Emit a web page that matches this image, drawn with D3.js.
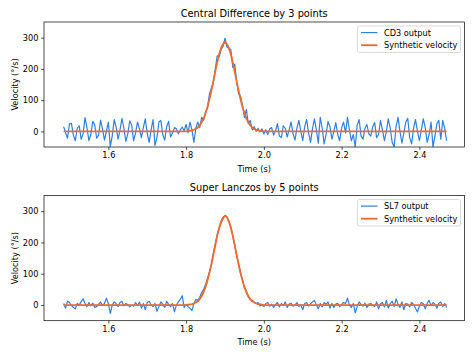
<!DOCTYPE html>
<html><head><meta charset="utf-8">
<script src="https://cdn.jsdelivr.net/npm/d3@7"></script>
<style>body{margin:0;background:#fff}svg{display:block}</style>
</head><body>
<script>
// ---- data ----
const tStart = 1.485, tStep = 0.005;
const titles = ["Central Difference by 3 points", "Super Lanczos by 5 points"];
const seriesNames = [["CD3 output", "Synthetic velocity"], ["SL7 output", "Synthetic velocity"]];
const xTicks = [1.6, 1.8, 2.0, 2.2, 2.4];
const yTicks = [0, 100, 200, 300];
const synthetic = [
 0,0,0,0,0,0,0,0,0,0, 0,0,0,0,0,0,0,0,0,0,
 0,0,0,0,0,0,0,0,0,0, 0,0,0,0,0,0,0,0,0,0,
 0,0,0,0,0,0,0,0,0,0, 0,0,0,0,0,0,0,0,0,0,
 0,0,0,0,1,2,3,5,8,12, 19,29,41,58,78,103,130,160,191,221,
 247,267,280,285,280,267,247,221,191,160, 130,103,78,58,41,29,19,12,8,5,
 3,2,1,0,0,0,0,0,0,0, 0,0,0,0,0,0,0,0,0,0,
 0,0,0,0,0,0,0,0,0,0, 0,0,0,0,0,0,0,0,0,0,
 0,0,0,0,0,0,0,0,0,0, 0,0,0,0,0,0,0,0,0,0,
 0,0,0,0,0,0,0,0,0,0, 0,0,0,0,0,0,0,0,0,0,
 0,0,0,0,0,0,0,0,0,0, 0,0,0,0,0,0,0,0
];
const cd3 = [
 15,-5,-22,24,26,-12,-30,10,18,-25, -8,44,12,-30,-10,32,20,-22,-12,36,
 8,-28,0,30,-48,-15,38,14,-25,5, 42,10,-32,-8,34,20,-30,-5,30,8,
 -20,12,40,-6,-35,5,38,-45,-20,30, 35,-10,-28,15,32,-18,-5,12,8,-8,
 5,14,2,22,-5,30,5,-35,10,30, 12,45,35,62,75,120,138,155,200,242,
 238,262,272,298,270,266,262,205,215,160, 120,112,85,45,70,25,35,5,15,0,
 10,-2,8,-8,5,-10,8,12,-12,2, 25,-15,-20,18,10,-18,5,30,-8,-28,
 10,35,0,-30,15,38,-5,-35,8,40, 5,-38,45,10,-40,-10,32,15,-25,0,
 28,-10,-30,12,30,-5,45,5,-30,-10, -50,20,38,-15,-25,10,22,-8,-15,15,
 28,-20,-10,35,5,-30,0,40,10,-35, -50,15,45,0,-38,-5,30,42,-20,-40,
 10,38,0,-30,5,40,12,-35,-10,30, -50,-15,25,35,-25,35,10,-30
];
const sl7 = [
 5,-10,12,8,-2,-8,-12,5,0,10, 20,5,-5,8,-3,6,-8,-5,2,10,
 -2,5,22,5,-27,0,10,5,-5,8, 12,-3,5,2,-6,0,-4,8,-2,10,
 -10,5,-15,8,12,0,-5,5,-20,-5, 10,3,-8,12,2,-5,5,-22,0,10,
 18,30,-8,2,-5,-10,-18,5,18,15, 25,40,50,65,85,105,130,165,195,225,
 245,262,275,287,282,268,250,222,192,158, 132,100,82,55,45,25,18,15,10,5,
 8,-3,2,-5,5,8,-4,3,-8,2, 8,-6,5,-2,10,-8,3,6,-4,0,
 8,-5,2,-15,5,8,-3,4,10,15, 0,-12,5,-6,8,2,10,-10,5,-8,
 3,6,-5,2,8,5,22,0,-8,5, -25,-5,10,2,-4,6,-8,3,5,0,
 -5,10,-12,4,8,-6,15,-10,5,12, -5,20,2,-8,10,-15,5,3,-6,8,
 2,-10,-22,-3,8,4,-12,5,15,-2, 8,3,-10,6,10,-5,5,-8
];
const outputs = [cd3, sl7];
// ---- drawing ----
const W = 474, H = 355;
const colBlue = "#2f80dc", colOrange = "#f0692e";
const font = "DejaVu Sans, sans-serif";
const svg = d3.select("body").append("svg").attr("width", W).attr("height", H)
  .style("font-family", font);
const times = d3.range(cd3.length).map(i => tStart + i * tStep);
const x = d3.scaleLinear().domain([1.4345, 2.516]).range([44, 464.5]);
const panels = [{top: 22, bottom: 147}, {top: 195.5, bottom: 320.7}];

panels.forEach((p, k) => {
  const y = d3.scaleLinear().domain([-50, 350]).range([p.bottom, p.top]);
  const g = svg.append("g");
  const cid = "clip" + k;
  g.append("clipPath").attr("id", cid).append("rect")
    .attr("x", x.range()[0]).attr("y", p.top)
    .attr("width", x.range()[1] - x.range()[0]).attr("height", p.bottom - p.top);
  const line = d3.line().defined((d, i) => i < times.length)
    .x((d, i) => x(times[i])).y(d => y(d));
  const plot = g.append("g").attr("clip-path", `url(#${cid})`);
  plot.append("path").datum(outputs[k]).attr("d", line)
    .attr("fill", "none").attr("stroke", colBlue).attr("stroke-width", 1.2)
    .attr("stroke-linejoin", "round");
  plot.append("path").datum(synthetic).attr("d", line)
    .attr("fill", "none").attr("stroke", colOrange).attr("stroke-width", 1.8)
    .attr("stroke-linejoin", "round");

  // axes
  const xa = g.append("g").attr("transform", `translate(0,${p.bottom})`)
    .call(d3.axisBottom(x).tickValues(xTicks).tickFormat(d3.format(".1f"))
      .tickSize(2.9).tickPadding(2.4).tickSizeOuter(0));
  const ya = g.append("g").attr("transform", `translate(${x.range()[0]},0)`)
    .call(d3.axisLeft(y).tickValues(yTicks).tickSize(2.9).tickPadding(2.6).tickSizeOuter(0));
  [xa, ya].forEach(a => {
    a.select(".domain").remove();
    a.selectAll("line").attr("stroke", "#000").attr("stroke-width", 0.7);
    a.selectAll("text").attr("font-size", 8.2).attr("font-family", font).attr("fill", "#000");
  });
  // frame
  g.append("rect").attr("x", x.range()[0]).attr("y", p.top)
    .attr("width", x.range()[1] - x.range()[0]).attr("height", p.bottom - p.top)
    .attr("fill", "none").attr("stroke", "#000").attr("stroke-width", 0.7);
  // title
  g.append("text").attr("x", (x.range()[0] + x.range()[1]) / 2).attr("y", p.top - 5)
    .attr("text-anchor", "middle").attr("font-size", 9.8).text(titles[k]);
  // x label
  g.append("text").attr("x", (x.range()[0] + x.range()[1]) / 2).attr("y", p.bottom + 24.5)
    .attr("text-anchor", "middle").attr("font-size", 8.2).text("Time (s)");
  // y label
  g.append("text").attr("transform", `translate(17.5,${(p.top + p.bottom) / 2}) rotate(-90)`)
    .attr("text-anchor", "middle").attr("font-size", 8.2).text("Velocity (°/s)");
  // legend
  const lx = 357.5, ly = p.top + 4, lw = 103, lh = 26.5;
  const lg = g.append("g");
  lg.append("rect").attr("x", lx).attr("y", ly).attr("width", lw).attr("height", lh)
    .attr("rx", 2).attr("fill", "#fff").attr("fill-opacity", 0.8)
    .attr("stroke", "#d0d0d0").attr("stroke-width", 0.8);
  [colBlue, colOrange].forEach((c, j) => {
    const yy = ly + 6.6 + j * 12.6;
    lg.append("line").attr("x1", lx + 3.5).attr("x2", lx + 20).attr("y1", yy).attr("y2", yy)
      .attr("stroke", c).attr("stroke-width", j ? 1.8 : 1.2);
    lg.append("text").attr("x", lx + 26.5).attr("y", yy + 3).attr("font-size", 8.2)
      .text(seriesNames[k][j]);
  });
});
</script>
</body></html>
